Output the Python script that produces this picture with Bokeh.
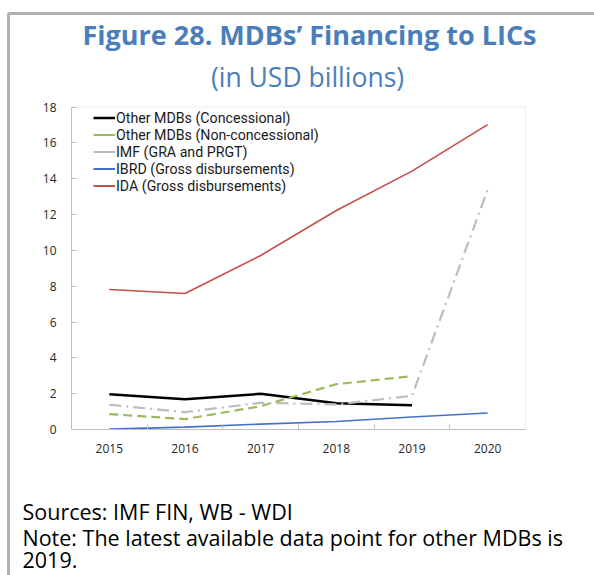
from bokeh.plotting import figure
from bokeh.models import Range1d, FixedTicker, Legend, LegendItem, Label, BoxAnnotation
from bokeh.embed import file_html
from bokeh.resources import INLINE

# ---- data ----
years = [2015, 2016, 2017, 2018, 2019, 2020]
years_other = [2015, 2016, 2017, 2018, 2019]
other_conc = [1.97, 1.69, 1.99, 1.47, 1.36]
other_nonconc = [0.86, 0.58, 1.30, 2.53, 2.98]
imf = [1.38, 0.97, 1.49, 1.40, 1.88, 13.38]
ibrd = [0.02, 0.13, 0.30, 0.45, 0.70, 0.92]
ida = [7.81, 7.59, 9.71, 12.22, 14.42, 17.02]
y_ticks = [0, 2, 4, 6, 8, 10, 12, 14, 16, 18]
year_bounds = [2015.5, 2016.5, 2017.5, 2018.5, 2019.5]
series_names = [
    "Other MDBs (Concessional)",
    "Other MDBs (Non-concessional)",
    "IMF (GRA and PRGT)",
    "IBRD (Gross disbursements)",
    "IDA (Gross disbursements)",
]
series_colors = ["black", "#9BBB59", "#BDBDBD", "#4472C4", "#C0504D"]
title_text = "Figure 28. MDBs\u2019 Financing to LICs"
subtitle_text = "(in USD billions)"
source_text = "Sources: IMF FIN, WB - WDI"
note_text = "Note: The latest available data point for other MDBs is"
note_text2 = "2019."

FONT = "Open Sans"
LEG_FONT = "Roboto"
GRAY = "#BFBFBF"
BLUE_T = "#4A7EBB"
NAN = float("nan")
W, H = 594, 575
# plot area in page pixels
PX0, PX1 = 71.0, 525.0
PY0, PY1 = 429.0, 106.5   # y=0 and y=18
XMIN, XMAX = 2014.5, 2020.5
YMIN, YMAX = 0.0, 18.0
sx = (PX1 - PX0) / (XMAX - XMIN)
sy = (PY0 - PY1) / (YMAX - YMIN)
x_range = Range1d(XMIN - PX0 / sx, XMAX + (W - PX1) / sx)
y_range = Range1d(YMIN - (H - PY0) / sy, YMAX + PY1 / sy)

p = figure(width=W, height=H, x_range=x_range, y_range=y_range,
           output_backend="svg", toolbar_location=None, min_border=0)
p.title.visible = False
p.xgrid.visible = False
p.ygrid.visible = False
p.outline_line_color = None
p.background_fill_color = "white"
p.border_fill_color = "white"

# plot-area frame (grey box)
p.add_layout(BoxAnnotation(left=XMIN, right=XMAX, bottom=YMIN, top=YMAX,
                           fill_alpha=0, line_color=GRAY, line_width=1))

xa = p.xaxis[0]
xa.fixed_location = YMIN
xa.bounds = (XMIN, XMAX)
xa.ticker = FixedTicker(ticks=years, minor_ticks=year_bounds)
xa.major_tick_line_color = None
xa.minor_tick_in = 5
xa.minor_tick_out = 0
xa.minor_tick_line_color = GRAY
xa.axis_line_color = GRAY
xa.major_label_standoff = 8
xa.major_label_overrides = {y: str(y) for y in years}

ya = p.yaxis[0]
ya.fixed_location = XMIN
ya.bounds = (YMIN, YMAX)
ya.ticker = FixedTicker(ticks=y_ticks)
ya.major_tick_in = 5
ya.major_tick_out = 0
ya.major_tick_line_color = GRAY
ya.minor_tick_line_color = None
ya.axis_line_color = GRAY
ya.major_label_standoff = 15

for ax in (xa, ya):
    ax.major_label_text_font = FONT
    ax.major_label_text_font_size = "12px"
    ax.major_label_text_color = "#262626"

p.line(years_other, other_conc, line_color=series_colors[0], line_width=2.5)
p.line(years_other, other_nonconc, line_color=series_colors[1], line_width=2.2, line_dash="9 5")
p.line(years, imf, line_color=series_colors[2], line_width=2.2, line_dash="12 5 2 5")
p.line(years, ibrd, line_color=series_colors[3], line_width=1.6)
p.line(years, ida, line_color=series_colors[4], line_width=1.6)

# legend proxies (solid short lines, as in the original legend; draw nothing in the plot)
proxies = [p.line([NAN], [NAN], line_color=c, line_width=(2.5 if i == 0 else 2))
           for i, c in enumerate(series_colors)]

legend = Legend(items=[LegendItem(label=n, renderers=[r]) for n, r in
                       zip(series_names, proxies)],
                location=(93, 381), padding=0, margin=0, spacing=0,
                glyph_width=22, glyph_height=17, label_height=17, label_standoff=1,
                label_text_font=LEG_FONT, label_text_font_size="14.2px",
                label_text_color="#1a1a1a",
                background_fill_alpha=0, border_line_color=None)
p.add_layout(legend, "center")

def lab(x, y_page, text, size, color="black", style="normal", align="left"):
    p.add_layout(Label(x=x, y=H - y_page, x_units="screen", y_units="screen", text=text,
                       text_font=FONT, text_font_size=size, text_color=color,
                       text_font_style=style, text_align=align,
                       text_baseline="middle"))

lab(309, 34, title_text, "27px", BLUE_T, "bold", "center")
lab(307, 76, subtitle_text, "26.5px", BLUE_T, "normal", "center")
lab(22, 511, source_text, "21.5px")
lab(22, 537, note_text, "21.5px")
lab(22, 559, note_text2, "21.5px")

# black border (left and top edges)
p.add_layout(BoxAnnotation(left=8, right=W + 50, top=H - 13, bottom=-50,
                           left_units="screen", right_units="screen",
                           top_units="screen", bottom_units="screen",
                           fill_alpha=0, line_color="black", line_width=3))

open("out.html", "w").write(file_html(p, INLINE))
